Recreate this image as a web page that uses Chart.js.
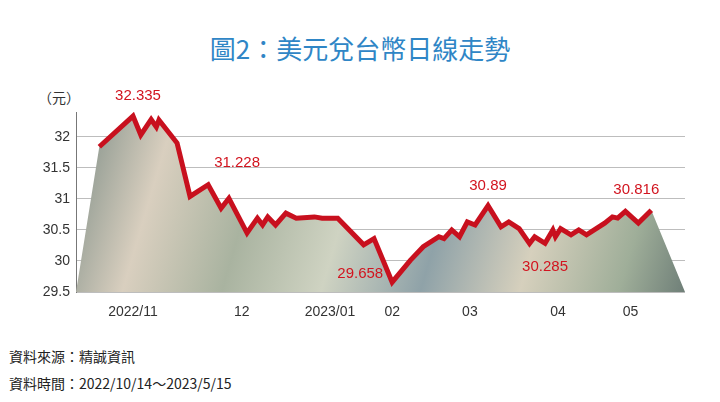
<!DOCTYPE html>
<html><head><meta charset="utf-8">
<script src="https://cdn.jsdelivr.net/npm/chart.js@4"></script>
<style>
body{margin:0;width:720px;height:402px;background:#fff;position:relative;overflow:hidden;font-family:"Noto Sans CJK TC","Noto Sans",sans-serif}
#t{position:absolute;top:29px;width:720px;text-align:center;font-size:26px;color:#2f86c6}
.f{position:absolute;left:9px;font-size:14px;color:#222}
#u{position:absolute;left:38px;top:87px;font-size:14px;color:#333}
canvas{position:absolute;left:0;top:0}
</style></head><body>
<div id="t">圖2：美元兌台幣日線走勢</div>
<div id="u">（元）</div>
<div class="f" style="top:346px">資料來源：精誠資訊</div>
<div class="f" style="top:373px">資料時間：2022/10/14～2023/5/15</div>
<canvas id="c" width="720" height="402"></canvas>
<script>
const days=[0,13,16,20,22,23,30,35,42,47,50,57,61,63,65,68,72,76,83,86,92,102,106,113,120,125,131,133,136,139,142,145,150,155,158,162,166,168,172,175,176,178,182,185,188,195,198,200,203,208,213];
const rates=[31.84,32.335,32.03,32.28,32.16,32.27,31.90,31.04,31.228,30.85,31.01,30.45,30.69,30.58,30.71,30.58,30.77,30.69,30.71,30.69,30.69,30.26,30.36,29.658,30.01,30.23,30.39,30.36,30.50,30.39,30.63,30.58,30.89,30.55,30.63,30.52,30.28,30.39,30.285,30.50,30.39,30.52,30.42,30.50,30.42,30.61,30.71,30.69,30.80,30.61,30.816];
const tickDays=[13,55,89,113,143,177,205];
const tickLabels=['2022/11','12','2023/01','02','03','04','05'];
const yTicks=[29.5,30,30.5,31,31.5,32];
const labelIdx=[1,8,23,32,38,50];
const pts=days.map((d,i)=>({x:d,y:rates[i]}));
const fillPts=[{x:-9,y:29.5},...pts,{x:226,y:29.5}];
const labelPlugin={id:'lbl',afterDatasetsDraw(ch){
 const c=ch.ctx,m=ch.getDatasetMeta(1);
 const off={1:[5,-20,'center'],8:[6,-22,'left'],23:[-9,-8,'right'],32:[0,-20,'center'],38:[0,24,'center'],50:[-15,-20,'center']};
 c.save();c.fillStyle='#d2141f';c.font='15px "Liberation Sans",Arial';c.textBaseline='middle';
 labelIdx.forEach(i=>{const p=m.data[i],o=off[i];c.textAlign=o[2];c.fillText(String(rates[i]),p.x+o[0],p.y+o[1]);});
 c.restore();}};
new Chart(document.getElementById('c'),{type:'line',
data:{datasets:[
 {data:fillPts,order:2,pointRadius:0,borderWidth:0,fill:'start',tension:0,
  backgroundColor:(ctx)=>{const a=ctx.chart.chartArea;if(!a)return '#aab';const g=ctx.chart.ctx.createLinearGradient(a.left,a.top,a.right,a.bottom);
   g.addColorStop(0,'#7d8d86');g.addColorStop(0.15,'#d9cfbf');g.addColorStop(0.3,'#a9b3a0');g.addColorStop(0.45,'#cfd3c2');g.addColorStop(0.6,'#8fa2a8');g.addColorStop(0.75,'#d6d0bd');g.addColorStop(0.9,'#9fae99');g.addColorStop(1,'#6f7f78');return g;}},
 {data:pts,order:1,pointRadius:0,borderColor:'#c8101e',borderWidth:5,tension:0,fill:false,borderJoinStyle:'miter'}
]},
options:{animation:false,responsive:false,layout:{padding:{left:30,right:35,top:112,bottom:80}},
 plugins:{legend:{display:false},tooltip:{enabled:false}},
 scales:{
  x:{type:'linear',min:-9,max:226,afterBuildTicks:s=>{s.ticks=tickDays.map(v=>({value:v}));},
   afterFit:s=>{s.height=30;},
   ticks:{callback:(v)=>tickLabels[tickDays.indexOf(v)],color:'#333',font:{size:14,family:'"Liberation Sans",Arial'},maxRotation:0,autoSkip:false,padding:4},
   grid:{display:false},border:{display:false}},
  y:{min:29.5,max:32.4,afterBuildTicks:s=>{s.ticks=yTicks.map(v=>({value:v}));},
   afterFit:s=>{s.width=46;},
   ticks:{callback:v=>String(v),color:'#333',font:{size:14,family:'"Liberation Sans",Arial'},padding:6},
   grid:{color:'#bdbdbd',lineWidth:1,drawTicks:false},border:{display:true,color:'#777',width:1}}
 }},
plugins:[labelPlugin]});
</script></body></html>
